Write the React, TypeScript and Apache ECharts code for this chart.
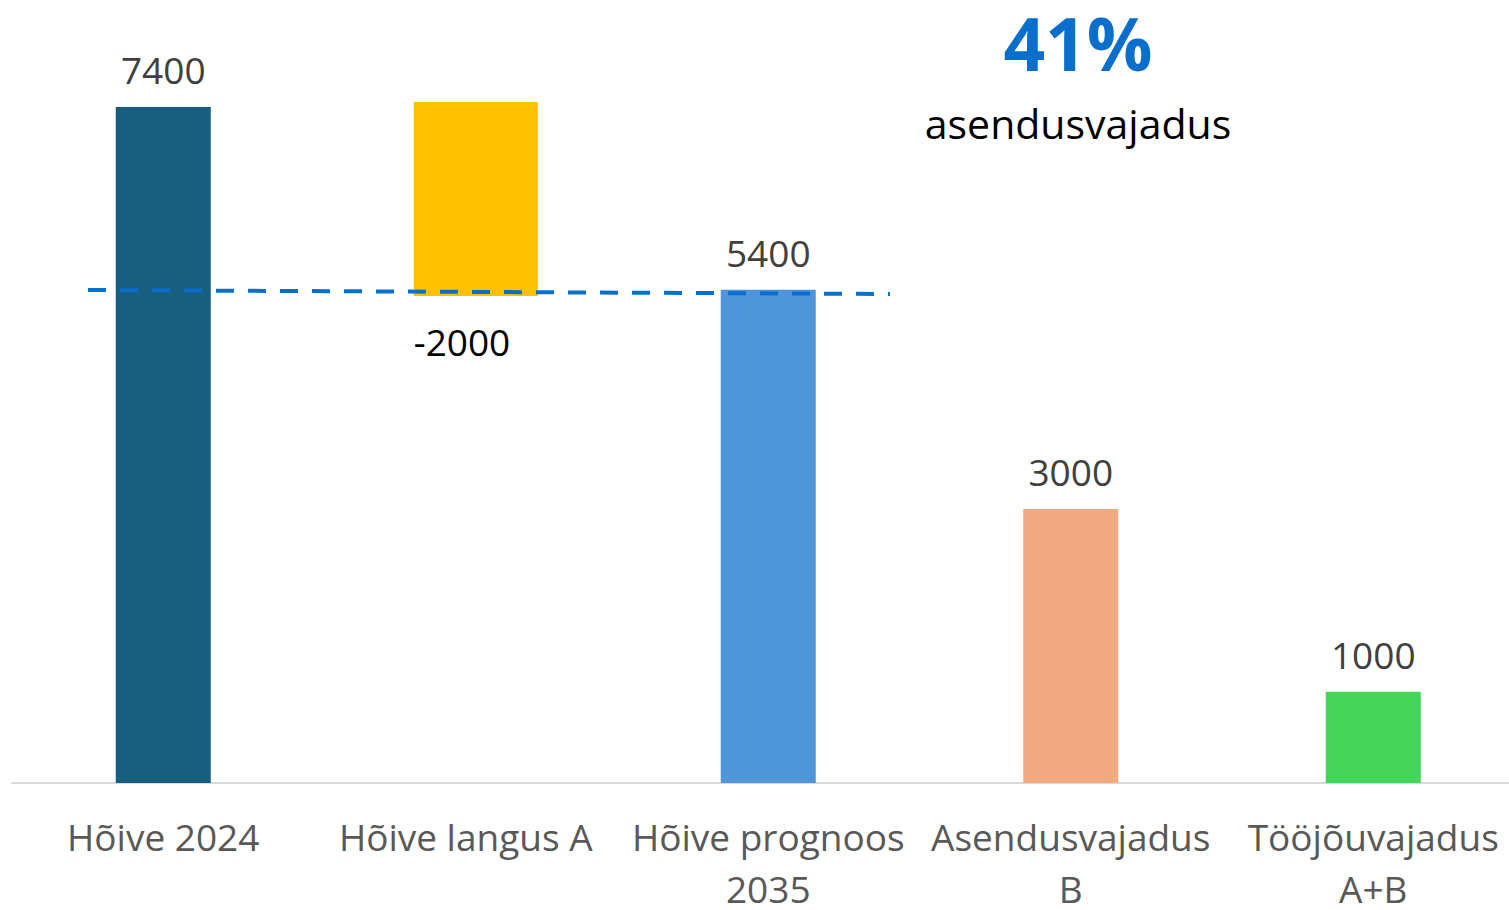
import React, { useEffect, useRef } from "react";
import * as echarts from "echarts";

const categories = [
  "Hõive 2024",
  "Hõive langus A",
  "Hõive prognoos\n2035",
  "Asendusvajadus\nB",
  "Tööjõuvajadus\nA+B",
];
const totals: (number | null)[] = [7400, null, 5400, 3000, 1000];
const declineBase: (number | null)[] = [null, 5330, null, null, null];
const declineValue: (number | null)[] = [null, 2125, null, null, null];
const valueLabels = ["7400", "-2000", "5400", "3000", "1000"];
const barColors = ["#175E7F", "#FFC000", "#4F95DA", "#F1AA84", "#46D45A"];
const headline = "41%";
const headlineSub = "asendusvajadus";

const FONT = "'Open Sans', 'Noto Sans', sans-serif";

export default function App() {
  const ref = useRef<HTMLDivElement>(null);
  useEffect(() => {
    if (!ref.current) return;
    const chart = echarts.init(ref.current, null, { renderer: "svg" });
    const gridTop = 52.2;
    const gridH = 730.8;
    const catW = 302.5;
    const option: any = {
      animation: false,
      backgroundColor: "#ffffff",
      grid: [
        { left: 12, top: gridTop, width: catW * 5, height: gridH, outerBoundsMode: "none", containLabel: false },
        { left: 22, top: gridTop, width: catW * 5, height: gridH, outerBoundsMode: "none", containLabel: false },
      ],
      xAxis: [
        {
          type: "category",
          gridIndex: 0,
          data: categories,
          axisLine: { show: true, lineStyle: { color: "#D9D9D9", width: 2 } },
          axisTick: { show: false },
          axisLabel: {
            interval: 0,
            margin: 27,
            color: "#595959",
            fontFamily: FONT,
            fontSize: 37,
            lineHeight: 52,
            verticalAlign: "top",
          },
        },
        {
          type: "category",
          gridIndex: 1,
          data: categories,
          show: false,
        },
      ],
      yAxis: [
        { type: "value", gridIndex: 0, min: 0, max: 8000, show: false, splitLine: { show: false } },
        { type: "value", gridIndex: 1, min: 0, max: 8000, show: false, splitLine: { show: false } },
      ],
      series: [
        {
          type: "bar",
          xAxisIndex: 0,
          yAxisIndex: 0,
          barWidth: 95,
          data: totals.map((v, i) => ({
            value: v === null ? "-" : v,
            itemStyle: { color: barColors[i] },
          })),
          label: {
            show: true,
            position: "top",
            distance: 19,
            color: "#404040",
            fontFamily: FONT,
            fontSize: 37,
            formatter: (p: any) => valueLabels[p.dataIndex],
          },
        },
        {
          type: "bar",
          xAxisIndex: 1,
          yAxisIndex: 1,
          stack: "decline",
          barWidth: 124,
          silent: true,
          itemStyle: { color: "transparent" },
          data: declineBase.map((v) => (v === null ? "-" : v)),
        },
        {
          type: "bar",
          xAxisIndex: 1,
          yAxisIndex: 1,
          stack: "decline",
          barWidth: 124,
          data: declineValue.map((v, i) => ({
            value: v === null ? "-" : v,
            itemStyle: { color: barColors[i] },
          })),
          label: {
            show: true,
            position: [0, "100%"],
            align: "left",
            verticalAlign: "top",
            offset: [0, 27],
            color: "#000000",
            fontFamily: FONT,
            fontSize: 37,
            formatter: (p: any) => valueLabels[p.dataIndex],
          },
        },
      ],
      graphic: [
        {
          type: "line",
          z: 100,
          shape: { x1: 88, y1: 290, x2: 890, y2: 294 },
          style: { stroke: "#0A6FCC", lineWidth: 4, lineDash: [18, 14] },
        },
        {
          type: "text",
          x: 1078,
          y: 42,
          style: {
            text: headline,
            fill: "#0A6FCC",
            font: `bold 73px ${FONT}`,
            lineHeight: 62,
            textAlign: "center",
            textVerticalAlign: "middle",
          },
        },
        {
          type: "text",
          x: 1078,
          y: 123,
          style: {
            text: headlineSub,
            fill: "#000000",
            font: `41px ${FONT}`,
            textAlign: "center",
            textVerticalAlign: "middle",
          },
        },
      ],
    };
    chart.setOption(option);
    return () => chart.dispose();
  }, []);
  return (
    <div
      ref={ref}
      style={{ position: "fixed", left: 0, top: 0, width: 1509, height: 910 }}
    />
  );
}
